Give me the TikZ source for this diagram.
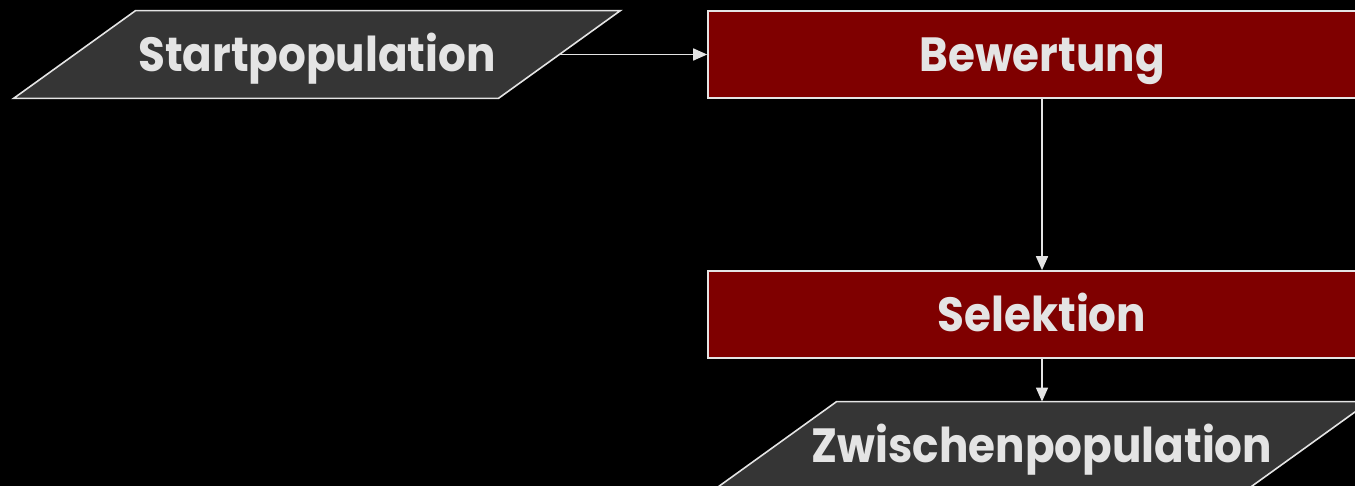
\documentclass[tikz,border=0pt]{standalone}
\usepackage{fontspec}
\setmainfont{Poppins}
\newfontfamily\labelfont{Poppins}[FakeStretch=0.91]
\usetikzlibrary{arrows.meta,backgrounds}
\definecolor{lineclr}{HTML}{E4E4E4}
\definecolor{stepred}{HTML}{7F0000}
\definecolor{iofill}{HTML}{353535}
% parallelogram drawn round an input/output node; its slanted sides
% cross the node's west and east anchors at mid-height
\newcommand\ioshape[1]{%
  \draw[draw=lineclr,line width=0.8pt,fill=iofill]
    ([xshift=-30.5pt]#1.south west) -- ([xshift=30.5pt]#1.north west)
    -- ([xshift=30.5pt]#1.north east) -- ([xshift=-30.5pt]#1.south east) -- cycle;}
\begin{document}
\begin{tikzpicture}[x=0.5pt,y=-0.5pt,
  every node/.style={text=lineclr,font=\labelfont\fontsize{24}{28}\selectfont\bfseries,
    inner sep=0pt,text height=17.2pt,text depth=0pt},
  stepbox/.style={draw=lineclr,line width=0.8pt,fill=stepred,rectangle,
    minimum width=334pt,minimum height=43.5pt},
  iobox/.style={rectangle,minimum height=43.5pt},
  flow/.style={draw=lineclr,line width=0.8pt,-{Triangle[length=7pt,width=6pt]}}]
  \useasboundingbox (0,0) rectangle (1355,486);
  \node[iobox,minimum width=242pt] (start) at (317,54.5) {Startpopulation};
  \node[stepbox] (bew) at (1042,54.5) {Bewertung};
  \node[stepbox] (sel) at (1042,314.5) {Selektion};
  \node[iobox,minimum width=266pt] (zw) at (1042,445.5) {Zwischenpopulation};
  \begin{scope}[on background layer]
    \fill[black] (0,0) rectangle (1355,486);
    \ioshape{start}
    \ioshape{zw}
  \end{scope}
  \draw[flow] (start.east) -- (bew.west);
  \draw[flow] (bew.south) -- (sel.north);
  \draw[flow] (sel.south) -- (zw.north);
\end{tikzpicture}
\end{document}
